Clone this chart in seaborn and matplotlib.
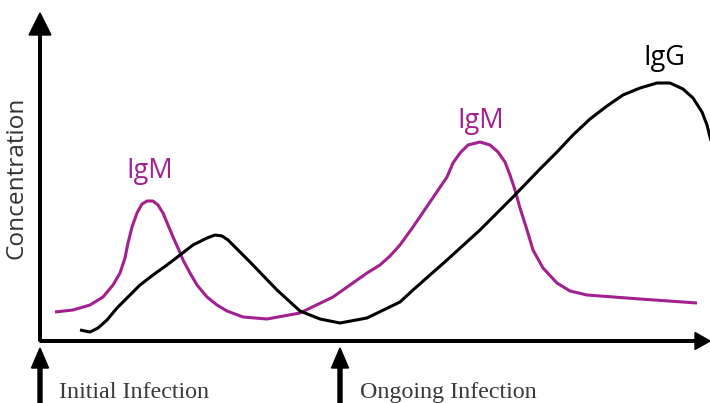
import numpy as np
import pandas as pd
import matplotlib
matplotlib.use("Agg")
import matplotlib.pyplot as plt
import seaborn as sns
from matplotlib.patches import FancyArrow

sns.set_theme(style="white")
plt.rcParams['font.family'] = ['Open Sans', 'DejaVu Sans']

# Time (arbitrary units) and concentration (arbitrary units)
igm_time = [15, 33, 50, 63, 73, 80, 85, 88, 92, 97, 102, 107, 113, 118, 123, 128, 133, 138,
            143, 150, 157, 167, 177, 187, 203, 227, 260, 293, 327, 340, 350, 360, 373,
            390, 407, 413, 420, 428, 440, 450, 458, 465, 470, 475, 480, 487, 493, 503,
            517, 530, 547, 560, 600, 657]
igm_conc = [29, 31, 36, 44, 56, 68, 83, 98, 114, 128, 137, 140, 140, 136, 128, 116, 104, 93,
            81, 68, 56, 44, 36, 30, 24, 22, 28, 44, 68, 76, 85, 96, 114,
            139, 164, 178, 188, 196, 199, 196, 189, 179, 166, 151, 133, 111, 91, 73,
            58, 50, 46, 45, 42, 38]

igg_time = [40, 50, 58, 67, 77, 88, 100, 113, 127, 140, 153, 167, 175, 182, 188, 200,
            210, 237, 260, 280, 300, 327, 360, 373, 407, 440, 473, 500, 517, 533, 550,
            567, 583, 600, 617, 630, 643, 653, 662, 667, 670, 674]
igg_conc = [11, 9, 13, 21, 33, 44, 56, 66, 76, 86, 96, 103, 106, 105, 101, 89,
            79, 51, 30, 22, 18, 23, 39, 51, 81, 111, 144, 172, 189, 206, 222,
            235, 246, 253, 258, 258, 252, 243, 229, 216, 204, 188]

df = pd.concat([
    pd.DataFrame({"time": igm_time, "conc": igm_conc, "ab": "IgM"}),
    pd.DataFrame({"time": igg_time, "conc": igg_conc, "ab": "IgG"}),
], ignore_index=True)

MAG = "#a3208f"
fig = plt.figure(figsize=(7.1, 4.03), dpi=100)
ax = fig.add_axes([0, 0, 1, 1])

sns.lineplot(data=df, x="time", y="conc", hue="ab", palette={"IgM": MAG, "IgG": "black"},
             sort=False, estimator=None, lw=2.2, legend=False, ax=ax,
             solid_capstyle="butt", solid_joinstyle="round")

ax.set_xlim(-40, 670)
ax.set_ylim(-62, 341)
ax.set_axis_off()

# Axes with arrowheads
ax.add_patch(FancyArrow(0, 0, 0, 328, width=2.6, head_width=22, head_length=22,
                        length_includes_head=True, color="black", zorder=5))
ax.add_patch(FancyArrow(0, 0, 670, 0, width=2.6, head_width=17, head_length=15,
                        length_includes_head=True, color="black", zorder=5))
# Infection markers
for x0 in (0, 300):
    ax.add_patch(FancyArrow(x0, -62, 0, 55, width=4, head_width=17, head_length=20,
                            length_includes_head=True, color="black", zorder=5))

ax.text(-23.5, 163, "Concentration", rotation=90, ha="center", va="center",
        fontsize=17.6, color="#333333")
serif = ["Liberation Serif", "DejaVu Serif"]
ax.text(19, -57, "Initial Infection", ha="left", va="baseline", fontsize=17.3,
        color="#3a3a3a", family=serif)
ax.text(320, -57, "Ongoing Infection", ha="left", va="baseline", fontsize=17.3,
        color="#3a3a3a", family=serif)

ax.text(110, 170, "IgM", ha="center", va="center", fontsize=19.5, color=MAG)
ax.text(441, 220, "IgM", ha="center", va="center", fontsize=19.5, color=MAG)
ax.text(624, 283, "IgG", ha="center", va="center", fontsize=19.5, color="black")

fig.savefig("out.png", dpi=100)
